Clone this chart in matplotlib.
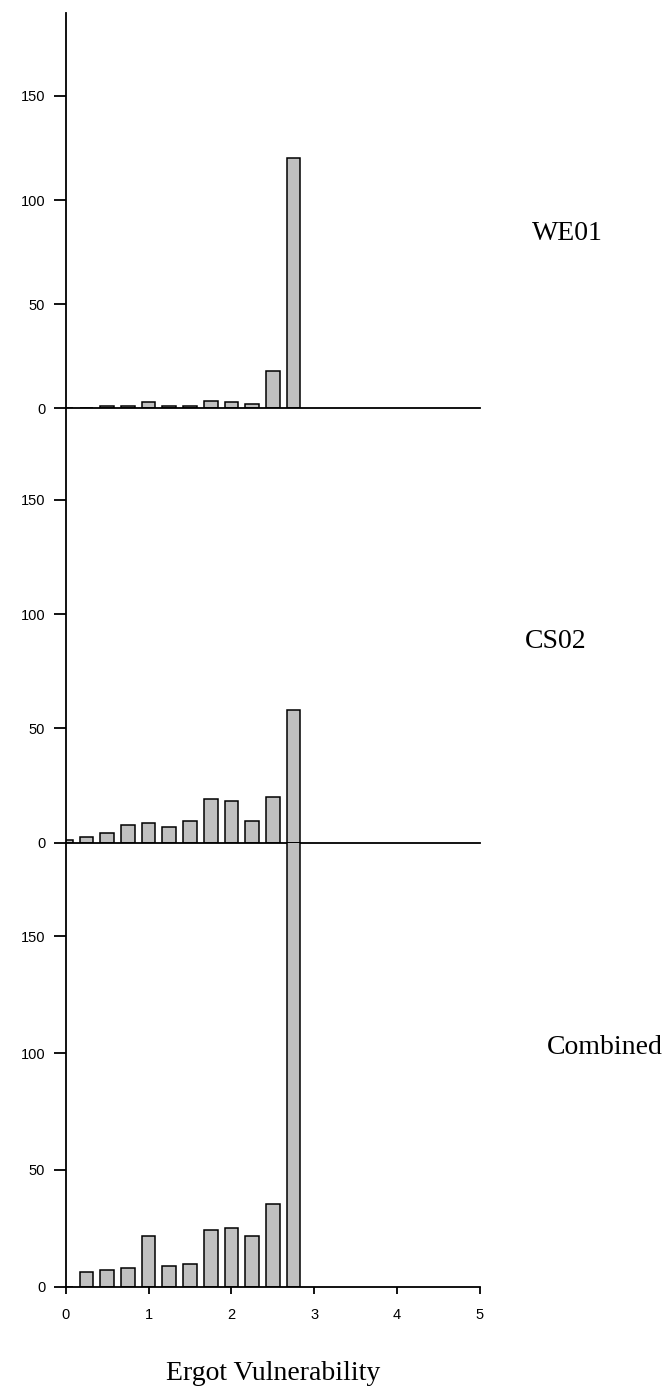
import matplotlib
matplotlib.use("Agg")
import matplotlib.pyplot as plt

# ---- data ----
bin_centers = [0.0, 0.25, 0.5, 0.75, 1.0, 1.25, 1.5, 1.75, 2.0, 2.25, 2.5, 2.75]
we01 = [0, 0, 1, 1, 3, 1, 1, 3.7, 3, 2, 18, 120]
cs02 = [1, 2.5, 4.4, 7.9, 8.8, 7, 9.6, 19.3, 18.4, 9.6, 20.2, 58]
combined = [0, 6.1, 7, 7.8, 21.6, 8.7, 9.6, 24.1, 25, 21.6, 35.3, 200]
panel_names = ["WE01", "CS02", "Combined"]
y_ticks = [0, 50, 100, 150]
x_ticks = [0, 1, 2, 3, 4, 5]
x_label = "Ergot Vulnerability"

W, H = 669, 1388
fig = plt.figure(figsize=(W / 100, H / 100), dpi=100)

left_px, right_px = 65.7, 480.0
panels_px = [(12.7, 408.3), (408.3, 842.7), (842.7, 1286.7)]  # top, bottom (pixels from top)
label_px = [(567, 234), (556, 642), (605, 1047)]
series = [we01, cs02, combined]

sans = ["Liberation Sans", "DejaVu Sans"]
serif = ["Liberation Serif", "DejaVu Serif"]

for i, (vals, (top, bot)) in enumerate(zip(series, panels_px)):
    ax = fig.add_axes([left_px / W, (H - bot) / H, (right_px - left_px) / W, (bot - top) / H])
    ax.bar(bin_centers, vals, width=0.165, color="#c0c0c0", edgecolor="black",
           linewidth=1.1, zorder=2)
    ax.set_xlim(0, 5)
    ax.set_ylim(0, 190)
    ax.patch.set_alpha(0)
    for s in ["top", "right"]:
        ax.spines[s].set_visible(False)
    for s in ["left", "bottom"]:
        ax.spines[s].set_linewidth(1.3)
        ax.spines[s].set_zorder(3)
    ax.set_yticks(y_ticks)
    ax.set_yticklabels([str(t) for t in y_ticks], fontfamily=sans, fontsize=10.5)
    ax.tick_params(axis="y", direction="out", length=8.8, width=1.3, pad=6)
    if i < 2:
        ax.set_xticks([])
    else:
        ax.set_xticks(x_ticks)
        ax.set_xticklabels([str(t) for t in x_ticks], fontfamily=sans, fontsize=10.5)
        ax.tick_params(axis="x", direction="out", length=5, width=1.3, pad=10)
    lx, ly = label_px[i]
    fig.text(lx / W, 1 - ly / H, panel_names[i], ha="center", va="center",
             fontfamily=serif, fontsize=20)

fig.text(273 / W, 1 - 1373 / H, x_label, ha="center", va="center",
         fontfamily=serif, fontsize=20)

fig.savefig("out.png", dpi=100)
